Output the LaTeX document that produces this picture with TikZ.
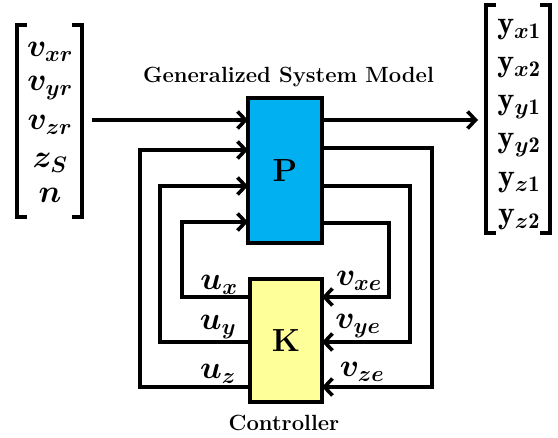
\RequirePackage{fix-cm}
\documentclass[tikz,border=0pt]{standalone}
\usepackage{amsmath,bm}
\usepackage{fontspec}
\usetikzlibrary{arrows.meta}

\definecolor{plantblue}{HTML}{00B0F0}
\definecolor{ctrlyellow}{HTML}{FFFF99}

\begin{document}
\begin{tikzpicture}[x=1pt, y=-1pt, >={Straight Barb[length=8pt,width=17pt]}, line width=3.6pt,
		block/.style={draw, line width=3.6pt, inner sep=0pt, font=\fontsize{32}{36}\selectfont\bfseries},
		sig/.style={font=\fontsize{32}{36}\selectfont},
		ttl/.style={font=\fontsize{22}{26}\selectfont\bfseries}]
			
			\useasboundingbox (0,0) rectangle (558,438);
			
			\node[block, fill=plantblue, minimum width=74pt, minimum height=145pt] (P) at (285,170.5) {P};
			\node[block, fill=ctrlyellow, minimum width=72pt, minimum height=123pt] (K) at (286,340.5) {K};
			
			\node[ttl] (model) at (288.5,77) {Generalized System Model};
			\node[ttl] (ctrl) at (284,423) {Controller};
			
			\draw (27,25) -| (17,217) -- (27,217);
			\draw (72,25) -| (82,217) -- (72,217);
			\node[sig] (vxr) at (50,52) {$\bm{v_{xr}}$};
			\node[sig] (vyr) at (50,88) {$\bm{v_{yr}}$};
			\node[sig] (vzr) at (50,125) {$\bm{v_{zr}}$};
			\node[sig] (zs) at (50,163) {$\bm{z_S}$};
			\node[sig] (n) at (50,195) {$\bm{n}$};
			
			\draw (496,5) -| (486,233) -- (496,233);
			\draw (540,5) -| (550,233) -- (540,233);
			\node[sig] (yx1) at (519,30) {$\mathbf{y}_{\bm{x}\mathbf{1}}$};
			\node[sig] (yx2) at (519,68) {$\mathbf{y}_{\bm{x}\mathbf{2}}$};
			\node[sig] (yy1) at (519,107) {$\mathbf{y}_{\bm{y}\mathbf{1}}$};
			\node[sig] (yy2) at (519,145) {$\mathbf{y}_{\bm{y}\mathbf{2}}$};
			\node[sig] (yz1) at (519,183) {$\mathbf{y}_{\bm{z}\mathbf{1}}$};
			\node[sig] (yz2) at (519,220) {$\mathbf{y}_{\bm{z}\mathbf{2}}$};
			
			\coordinate (vin) at (92,120);
			\coordinate (vout) at (478,120);
			\coordinate (pi1) at (248,120);
			\coordinate (pi2) at (248,150);
			\coordinate (pi3) at (248,186);
			\coordinate (pi4) at (248,222);
			\coordinate (po1) at (322,120);
			\coordinate (po2) at (322,148);
			\coordinate (po3) at (322,186);
			\coordinate (po4) at (322,223);
			\coordinate (ku1) at (250,297);
			\coordinate (ku2) at (250,342);
			\coordinate (ku3) at (250,387);
			\coordinate (kv1) at (322,297);
			\coordinate (kv2) at (322,342);
			\coordinate (kv3) at (322,387);
			\coordinate (xl1) at (182,0);
			\coordinate (xl2) at (160,0);
			\coordinate (xl3) at (140,0);
			\coordinate (xr1) at (389,0);
			\coordinate (xr2) at (410,0);
			\coordinate (xr3) at (432,0);
			
			\draw[->] (vin) -- (pi1);
			\draw[->] (po1) -- (vout);
			\draw[->] (po2) -| (xr3 |- kv3) -- (kv3);
			\draw[->] (po3) -| (xr2 |- kv2) -- (kv2);
			\draw[->] (po4) -| (xr1 |- kv1) -- (kv1);
			\draw[->] (ku3) -| (xl3 |- pi2) -- (pi2);
			\draw[->] (ku2) -| (xl2 |- pi3) -- (pi3);
			\draw[->] (ku1) -| (xl1 |- pi4) -- (pi4);
			
			\node[sig] (ux) at (219,285) {$\bm{u_x}$};
			\node[sig] (uy) at (218,327) {$\bm{u_y}$};
			\node[sig] (uz) at (218,374) {$\bm{u_z}$};
			\node[sig] (vxe) at (359,281) {$\bm{v_{xe}}$};
			\node[sig] (vye) at (358,326) {$\bm{v_{ye}}$};
			\node[sig] (vze) at (362,372) {$\bm{v_{ze}}$};
			
	\end{tikzpicture}
\end{document}
